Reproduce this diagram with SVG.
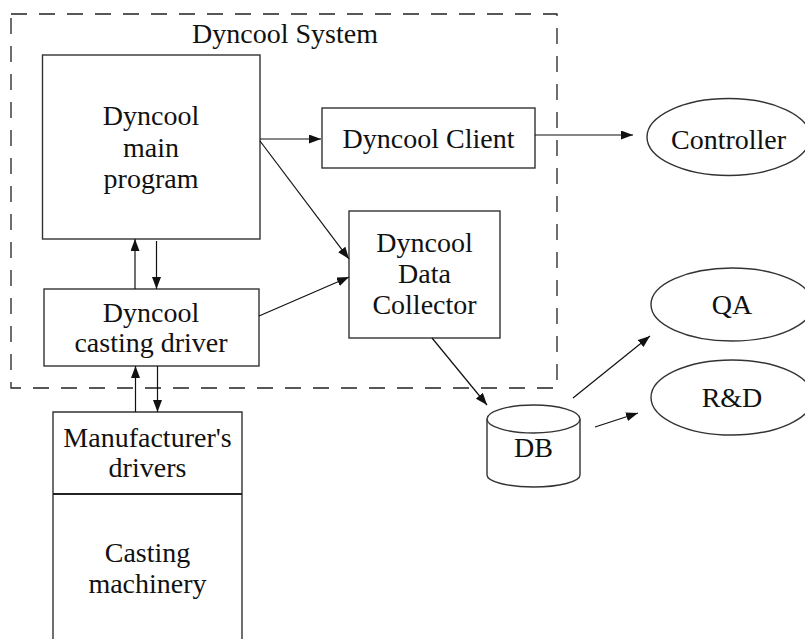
<svg xmlns="http://www.w3.org/2000/svg" width="805" height="639" viewBox="0 0 805 639">
  <style>
    .box { fill: #ffffff; stroke: #333333; stroke-width: 1.4; }
    .frame { fill: none; stroke: #222222; stroke-width: 1.3; stroke-dasharray: 16 12; }
    .edge { fill: none; stroke: #111111; stroke-width: 1.2; }
    text { font-family: "Liberation Serif", "Times New Roman", serif; font-size: 28px; fill: #111111; text-anchor: middle; }
  </style>
  <defs>
    <marker id="arrow" markerWidth="12" markerHeight="9" refX="12" refY="4.5" orient="auto" markerUnits="userSpaceOnUse">
      <path d="M0,0 L12,4.5 L0,9 Z" fill="#111111"/>
    </marker>
  </defs>

  <rect width="805" height="639" fill="#ffffff"/>

  <!-- system boundary -->
  <g id="system">
    <rect class="frame" x="11" y="14" width="546" height="374"/>
    <text x="285" y="43">Dyncool System</text>
  </g>

  <g id="main-program">
    <rect class="box" x="42.5" y="55" width="217.5" height="184"/>
    <text x="151" y="125">Dyncool</text>
    <text x="151" y="157">main</text>
    <text x="151" y="188">program</text>
  </g>

  <g id="client">
    <rect class="box" x="322" y="108" width="213" height="60"/>
    <text x="428.5" y="148">Dyncool Client</text>
  </g>

  <g id="data-collector">
    <rect class="box" x="349" y="211" width="151" height="127"/>
    <text x="424.5" y="252">Dyncool</text>
    <text x="424.5" y="283">Data</text>
    <text x="424.5" y="314">Collector</text>
  </g>

  <g id="casting-driver">
    <rect class="box" x="44" y="289" width="215" height="77"/>
    <text x="151" y="322">Dyncool</text>
    <text x="151" y="352">casting driver</text>
  </g>

  <g id="machinery">
    <path class="box" d="M53,645 L53,412 L242,412 L242,645"/>
    <line x1="53" y1="494" x2="242" y2="494" stroke="#222222" stroke-width="2.2"/>
    <text x="147.5" y="447">Manufacturer's</text>
    <text x="147.5" y="477">drivers</text>
    <text x="147.5" y="562">Casting</text>
    <text x="147.5" y="593">machinery</text>
  </g>

  <g id="db">
    <path class="box" d="M487,419 L487,475 A46.5,12 0 0 0 580,475 L580,419"/>
    <ellipse class="box" cx="533.5" cy="419" rx="46.5" ry="14"/>
    <text x="533.5" y="457">DB</text>
  </g>

  <g id="controller">
    <ellipse class="box" cx="728.5" cy="137" rx="81.5" ry="38.5"/>
    <text x="728.5" y="149">Controller</text>
  </g>

  <g id="qa">
    <ellipse class="box" cx="732" cy="304.5" rx="81" ry="36.5"/>
    <text x="732" y="314">QA</text>
  </g>

  <g id="rnd">
    <ellipse class="box" cx="732" cy="397.5" rx="81" ry="37.5"/>
    <text x="732" y="407">R&amp;D</text>
  </g>

  <g id="connectors">
    <line class="edge" x1="260" y1="139" x2="321" y2="139" marker-end="url(#arrow)"/>
    <line class="edge" x1="260" y1="141" x2="349" y2="259" marker-end="url(#arrow)"/>
    <line class="edge" x1="259" y1="316" x2="349" y2="277" marker-end="url(#arrow)"/>
    <line class="edge" x1="535" y1="135" x2="633" y2="135" marker-end="url(#arrow)"/>
    <line class="edge" x1="432" y1="338" x2="487" y2="405" marker-end="url(#arrow)"/>
    <line class="edge" x1="573" y1="398" x2="650" y2="336" marker-end="url(#arrow)"/>
    <line class="edge" x1="595" y1="427" x2="638" y2="413" marker-end="url(#arrow)"/>
    <line class="edge" x1="135" y1="289" x2="135" y2="239" marker-end="url(#arrow)"/>
    <line class="edge" x1="156.5" y1="241" x2="156.5" y2="289" marker-end="url(#arrow)"/>
    <line class="edge" x1="135.5" y1="412" x2="135.5" y2="366" marker-end="url(#arrow)"/>
    <line class="edge" x1="157.5" y1="366" x2="157.5" y2="412" marker-end="url(#arrow)"/>
  </g>
</svg>
